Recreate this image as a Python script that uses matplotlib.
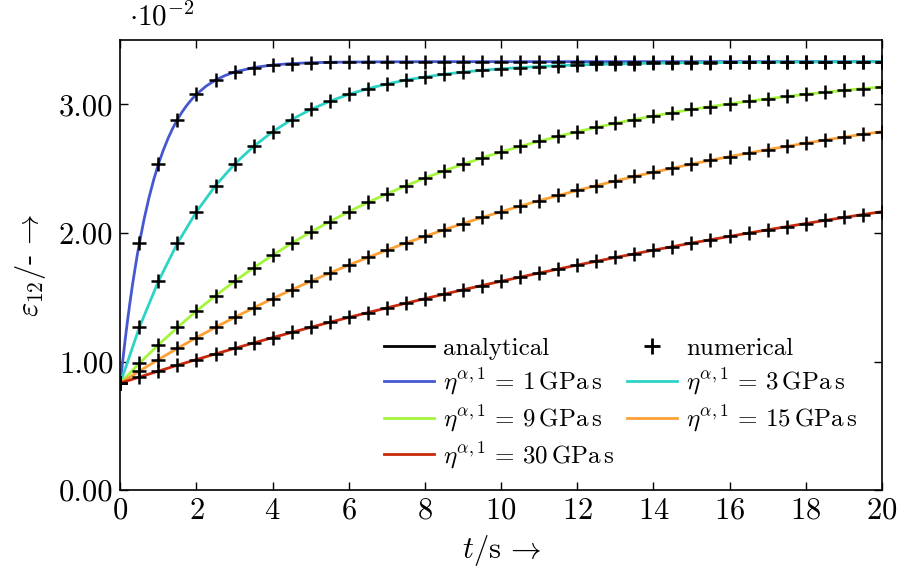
"""Shear strain relaxation: analytical vs numerical."""

import matplotlib

matplotlib.use("Agg")
import matplotlib.pyplot as plt  # noqa: E402
import numpy as np
from matplotlib.lines import Line2D

plt.rcParams["font.family"] = "serif"
plt.rcParams["font.serif"] = ["cmr10", "DejaVu Serif"]
plt.rcParams["mathtext.fontset"] = "cm"
plt.rcParams["axes.formatter.use_mathtext"] = True

# time grid of the numerical results, s
time = np.linspace(0, 20, 41)

# strain eps_12 in units of 1e-2, one list per viscosity
eps_eta1 = [0.833, 1.921, 2.536, 2.883, 3.079, 3.190, 3.252, 3.287, 3.307, 3.318,
            3.325, 3.328, 3.330, 3.331, 3.332, 3.332] + [3.333] * 25
eps_eta3 = [0.833, 1.267, 1.625, 1.921, 2.166, 2.369, 2.536, 2.674, 2.788, 2.883,
            2.961, 3.025, 3.079, 3.123, 3.159, 3.190, 3.214, 3.235, 3.252, 3.266,
            3.278, 3.287, 3.295, 3.302, 3.307, 3.312, 3.315, 3.318, 3.321, 3.323,
            3.325, 3.326, 3.327, 3.328, 3.329, 3.330, 3.330, 3.331, 3.331, 3.332,
            3.332]
eps_eta9 = [0.833, 0.987, 1.131, 1.266, 1.394, 1.513, 1.625, 1.730, 1.828, 1.921,
            2.008, 2.089, 2.166, 2.238, 2.305, 2.368, 2.428, 2.483, 2.535, 2.584,
            2.631, 2.674, 2.714, 2.752, 2.788, 2.822, 2.853, 2.883, 2.910, 2.936,
            2.961, 2.983, 3.005, 3.025, 3.044, 3.062, 3.079, 3.094, 3.109, 3.123,
            3.136]
eps_eta15 = [0.833, 0.926, 1.016, 1.103, 1.187, 1.267, 1.344, 1.418, 1.490, 1.559,
             1.625, 1.689, 1.751, 1.810, 1.867, 1.922, 1.974, 2.025, 2.074, 2.121,
             2.166, 2.210, 2.252, 2.292, 2.331, 2.369, 2.405, 2.440, 2.473, 2.505,
             2.536, 2.566, 2.595, 2.622, 2.649, 2.674, 2.699, 2.723, 2.746, 2.768,
             2.789]
eps_eta30 = [0.833, 0.880, 0.926, 0.972, 1.016, 1.060, 1.103, 1.145, 1.187, 1.227,
             1.267, 1.306, 1.344, 1.381, 1.418, 1.454, 1.490, 1.524, 1.559, 1.592,
             1.625, 1.657, 1.689, 1.720, 1.751, 1.780, 1.810, 1.838, 1.867, 1.894,
             1.922, 1.948, 1.974, 2.000, 2.025, 2.050, 2.074, 2.098, 2.121, 2.144,
             2.166]

# finer analytical samples for the steep start of the 1 GPa s curve
time_eta1_fine = [0.0, 0.0625, 0.125, 0.1875, 0.25, 0.3125, 0.375, 0.4375, 0.5,
                  0.625, 0.75, 0.875, 1.0, 1.125, 1.25, 1.375, 1.5, 1.625, 1.75,
                  1.875, 2.0, 2.25, 2.5, 2.75, 3.0]
eps_eta1_fine = [0.833, 1.005, 1.166, 1.315, 1.454, 1.584, 1.702, 1.817, 1.921,
                 2.109, 2.272, 2.413, 2.536, 2.642, 2.734, 2.814, 2.883, 2.943,
                 2.995, 3.040, 3.079, 3.142, 3.190, 3.225, 3.252]

viscosities = [1, 3, 9, 15, 30]
series = [eps_eta1, eps_eta3, eps_eta9, eps_eta15, eps_eta30]
colors = ["#4658d0", "#2dd4c6", "#a4f53c", "#fca035", "#c8290c"]

fig, ax = plt.subplots(figsize=(8.98, 5.74), dpi=100)
fig.subplots_adjust(left=0.134, right=0.982, bottom=0.146, top=0.930)

for eta, eps, col in zip(viscosities, series, colors):
    if eta == 1:
        t_line = time_eta1_fine + list(time[7:])
        e_line = eps_eta1_fine + list(eps[7:])
    else:
        t_line, e_line = time, eps
    ax.plot(t_line, e_line, color=col, linewidth=2.0, zorder=2)

for eps in series:
    ax.plot(time, eps, linestyle="none", marker="+", color="black",
            markersize=10, markeredgewidth=1.8, zorder=3)

ax.set_xlim(0, 20)
ax.set_ylim(0, 3.5)
ax.set_xticks(np.arange(0, 21, 2))
ax.set_yticks([0, 1, 2, 3])
ax.set_yticklabels(["0.00", "1.00", "2.00", "3.00"])
ax.tick_params(direction="in", top=True, right=True, length=6, width=1.0,
               labelsize=22, pad=5)
for spine in ax.spines.values():
    spine.set_linewidth(1.2)

ax.set_xlabel(r"$t$/s$\,\rightarrow$", fontsize=22, labelpad=6)
ax.set_ylabel(r"$\varepsilon_{12}$/-$\,\rightarrow$", fontsize=22, labelpad=8)
ax.text(0.012, 1.02, r"$\cdot 10^{-2}$", transform=ax.transAxes,
        fontsize=21, ha="left", va="bottom")

handles = [
    Line2D([], [], color="black", linewidth=2.0),
    Line2D([], [], color=colors[0], linewidth=2.0),
    Line2D([], [], color=colors[2], linewidth=2.0),
    Line2D([], [], color=colors[4], linewidth=2.0),
    Line2D([], [], linestyle="none", marker="+", color="black",
           markersize=11, markeredgewidth=2.0),
    Line2D([], [], color=colors[1], linewidth=2.0),
    Line2D([], [], color=colors[3], linewidth=2.0),
]
labels = [
    "analytical",
    r"$\eta^{\alpha,1}$ = 1$\,$GPa$\,$s",
    r"$\eta^{\alpha,1}$ = 9$\,$GPa$\,$s",
    r"$\eta^{\alpha,1}$ = 30$\,$GPa$\,$s",
    "numerical",
    r"$\eta^{\alpha,1}$ = 3$\,$GPa$\,$s",
    r"$\eta^{\alpha,1}$ = 15$\,$GPa$\,$s",
]
ax.legend(handles, labels, ncol=2, frameon=False, fontsize=18,
          loc="lower right", bbox_to_anchor=(0.988, 0.01),
          handlelength=2.0, handletextpad=0.35, columnspacing=0.5,
          labelspacing=0.26, borderaxespad=0.2)

fig.savefig("out.png", dpi=100)
